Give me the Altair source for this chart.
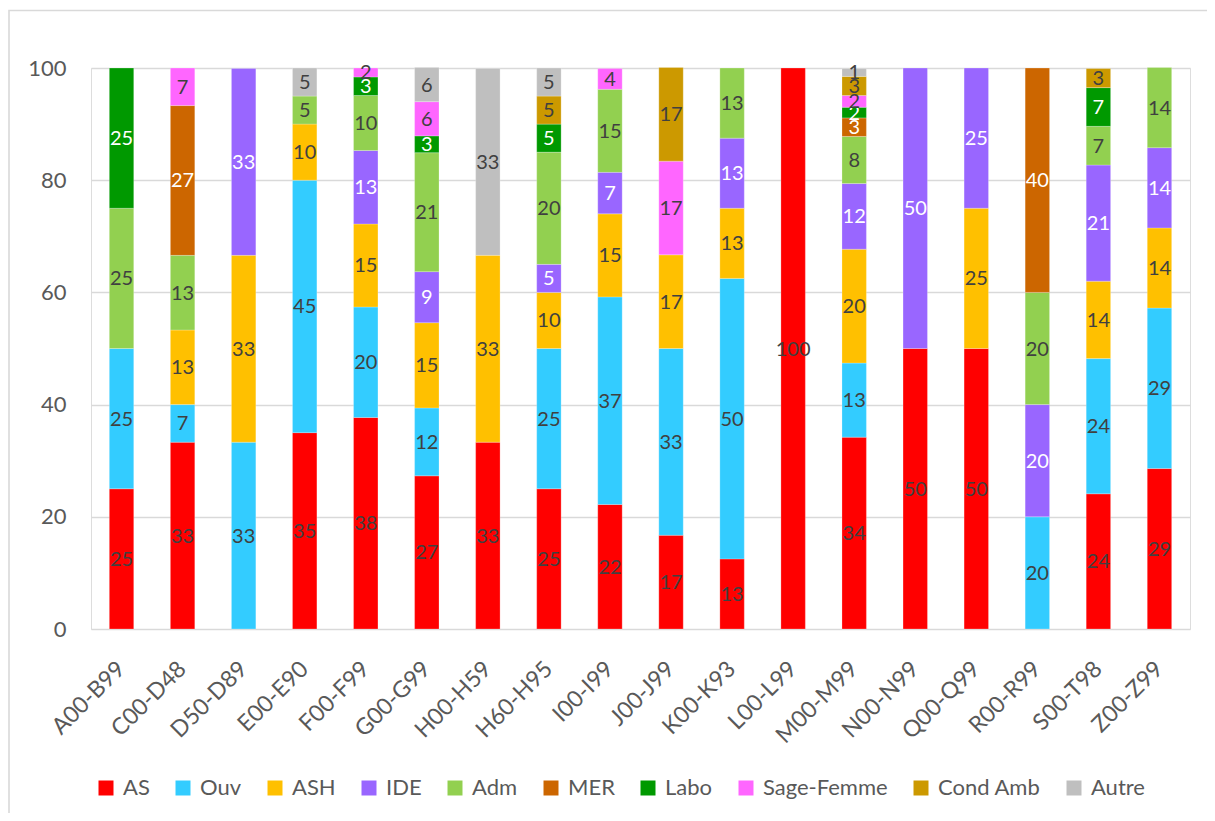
import altair as alt
import pandas as pd

cats = ["A00-B99", "C00-D48", "D50-D89", "E00-E90", "F00-F99", "G00-G99",
        "H00-H59", "H60-H95", "I00-I99", "J00-J99", "K00-K93", "L00-L99",
        "M00-M99", "N00-N99", "Q00-Q99", "R00-R99", "S00-T98", "Z00-Z99"]

series = ["AS", "Ouv", "ASH", "IDE", "Adm", "MER", "Labo", "Sage-Femme", "Cond Amb", "Autre"]
colors = ["#FF0000", "#33CCFF", "#FFC000", "#9966FF", "#92D050", "#CC6600",
          "#009900", "#FF66FF", "#CC9900", "#BFBFBF"]

AS = [25, 33.3, 0, 35, 37.7, 27.3, 33.3, 25, 22.2, 16.7, 12.5, 100, 34.2, 50, 50, 0, 24.1, 28.6]
Ouv = [25, 6.7, 33.3, 45, 19.7, 12.1, 0, 25, 37.0, 33.3, 50, 0, 13.2, 0, 0, 20, 24.1, 28.6]
ASH = [0, 13.3, 33.3, 10, 14.8, 15.2, 33.3, 10, 14.8, 16.7, 12.5, 0, 20.3, 0, 25, 0, 13.8, 14.3]
IDE = [0, 0, 33.3, 0, 13.1, 9.1, 0, 5, 7.4, 0, 12.5, 0, 11.7, 50, 25, 20, 20.7, 14.3]
Adm = [25, 13.3, 0, 5, 9.8, 21.2, 0, 20, 14.8, 0, 12.5, 0, 8.4, 0, 0, 20, 6.9, 14.3]
MER = [0, 26.7, 0, 0, 0, 0, 0, 0, 0, 0, 0, 0, 3.3, 0, 0, 40, 0, 0]
Labo = [25, 0, 0, 0, 3.3, 3.0, 0, 5, 0, 0, 0, 0, 1.9, 0, 0, 0, 6.9, 0]
SageFemme = [0, 6.7, 0, 0, 1.6, 6.1, 0, 0, 3.7, 16.7, 0, 0, 2.1, 0, 0, 0, 0, 0]
CondAmb = [0, 0, 0, 0, 0, 0, 0, 5, 0, 16.7, 0, 0, 3.4, 0, 0, 0, 3.4, 0]
Autre = [0, 0, 0, 5, 0, 6.1, 33.3, 5, 0, 0, 0, 0, 1.4, 0, 0, 0, 0, 0]

white_label_series = ["IDE", "MER", "Labo"]

values = [AS, Ouv, ASH, IDE, Adm, MER, Labo, SageFemme, CondAmb, Autre]
rows = []
for si, (s, vals) in enumerate(zip(series, values)):
    for c, v in zip(cats, vals):
        if v > 0:
            rows.append({"cat": c, "series": s, "order": si, "value": v,
                         "lc": "#FFFFFF" if s in white_label_series else "#404040"})
df = pd.DataFrame(rows)

FONT = "Lato"
W, H = 1099, 561

base = alt.Chart(df).transform_stack(
    stack="value", groupby=["cat"], as_=["y0", "y1"],
    sort=[alt.SortField("order", order="ascending")]
).transform_calculate(
    ymid="(datum.y0 + datum.y1) / 2"
)

xenc = alt.X("cat:N", sort=cats, title=None,
             scale=alt.Scale(paddingInner=0.6, paddingOuter=0.3),
             axis=alt.Axis(labelAngle=-45, labelAlign="right", labelBaseline="middle",
                           labelFontSize=23, labelColor="#595959", labelFont=FONT,
                           labelPadding=36, ticks=False, domain=False, grid=False))

bars = base.mark_bar(stroke="#FFFFFF", strokeWidth=0.4, strokeOpacity=0.6).encode(
    x=xenc,
    y=alt.Y("y0:Q", title=None, scale=alt.Scale(domain=[0, 100], nice=False),
            axis=alt.Axis(values=[0, 20, 40, 60, 80, 100], labelFontSize=22,
                          labelColor="#595959", labelFont=FONT, labelPadding=25,
                          ticks=False, domain=False, grid=True, gridColor="#D9D9D9",
                          gridWidth=1.4)),
    y2="y1:Q",
    color=alt.Color("series:N", sort=series,
                    scale=alt.Scale(domain=series, range=colors),
                    legend=alt.Legend(title=None, orient="none", direction="horizontal",
                                      legendX=4, legendY=709, symbolType="square",
                                      symbolSize=225, symbolStrokeWidth=0,
                                      labelFontSize=22, labelColor="#595959",
                                      labelFont=FONT, labelOffset=6, columnPadding=22,
                                      columns=10)),
)

labels = base.mark_text(fontSize=20, font=FONT, baseline="middle", align="center", dy=1).encode(
    x=alt.X("cat:N", sort=cats),
    y=alt.Y("ymid:Q"),
    text=alt.Text("value:Q", format=".0f"),
    color=alt.Color("lc:N", scale=None),
)

border = alt.Chart(pd.DataFrame({"b": [0]})).mark_rect(
    filled=False, stroke="#D9D9D9", strokeWidth=1.6
).encode(x=alt.value(-82), x2=alt.value(1300), y=alt.value(-57.5), y2=alt.value(900))

chart = alt.layer(border, bars, labels).properties(
    width=W, height=H,
    autosize=alt.AutoSizeParams(type="none"),
    padding={"left": 83, "top": 60, "right": 17, "bottom": 184},
).configure_view(stroke=None).configure(background="#FFFFFF")

chart.save("out.html", embed_options={"renderer": "svg", "actions": False})
